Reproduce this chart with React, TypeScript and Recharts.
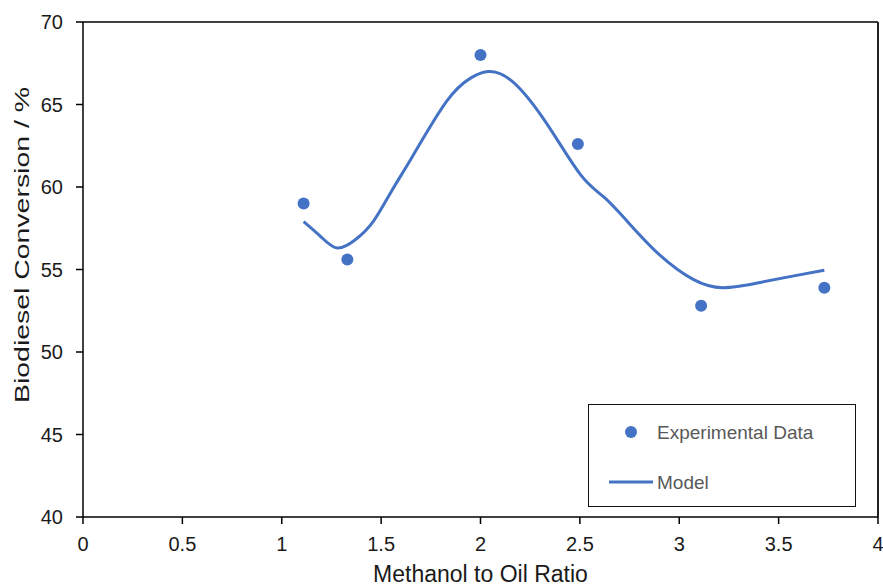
import {
  ComposedChart,
  Line,
  Scatter,
  XAxis,
  YAxis,
  ReferenceLine,
} from "recharts";

// experimental points
const expRatio = [1.11, 1.33, 2.0, 2.49, 3.11, 3.73];
const expConversion = [59.0, 55.6, 68.0, 62.6, 52.8, 53.9];

// model curve
const modelRatio = [
  1.11, 1.2, 1.28, 1.37, 1.46, 1.55, 1.66, 1.83, 1.95, 2.04, 2.16, 2.33, 2.5,
  2.62, 2.74, 2.9, 3.07, 3.22, 3.4, 3.57, 3.73,
];
const modelConversion = [
  57.9, 56.95, 56.3, 56.8, 57.9, 59.7, 61.9, 65.2, 66.6, 67.0, 66.4, 63.9,
  60.8, 59.4, 57.9, 55.9, 54.4, 53.9, 54.2, 54.6, 54.95,
];

const xTicks = [0, 0.5, 1, 1.5, 2, 2.5, 3, 3.5, 4];
const yTicks = [40, 45, 50, 55, 60, 65, 70];

const expData = expRatio.map((x, i) => ({ x, y: expConversion[i] }));
const modelData = modelRatio.map((x, i) => ({ x, y: modelConversion[i] }));

const BLUE = "#4472C4";
const FONT = "'Liberation Sans', Arial, sans-serif";

function LegendBox() {
  return (
    <div
      style={{
        position: "absolute",
        left: 588,
        top: 404,
        width: 268,
        height: 103,
        border: "1.5px solid #111",
        boxSizing: "border-box",
        background: "#fff",
      }}
    >
      <svg width={266} height={100} style={{ position: "absolute", left: 0, top: 0 }}>
        <circle cx={42} cy={27} r={6} fill={BLUE} />
        <line x1={20} x2={64} y1={77} y2={77} stroke={BLUE} strokeWidth={3} />
        <text x={68} y={27} dominantBaseline="central" fill="#595959" fontSize={19} fontFamily={FONT}>
          Experimental Data
        </text>
        <text x={68} y={77} dominantBaseline="central" fill="#595959" fontSize={19} fontFamily={FONT}>
          Model
        </text>
      </svg>
    </div>
  );
}

export default function App() {
  return (
    <div style={{ position: "absolute", left: 0, top: 0, width: 883, height: 588, background: "#fff" }}>
      <ComposedChart
        width={883}
        height={588}
        margin={{ top: 22, right: 5, bottom: 0, left: 0 }}
      >
        <XAxis
          type="number"
          dataKey="x"
          domain={[0, 4]}
          ticks={xTicks}
          interval={0}
          height={71}
          tickSize={7}
          tickMargin={13}
          stroke="#000"
          strokeWidth={1.5}
          tick={{ fill: "#1a1a1a", fontSize: 20, fontFamily: FONT }}
          label={({ viewBox }: any) => (
            <text
              x={viewBox.x + viewBox.width / 2}
              y={582}
              textAnchor="middle"
              fill="#1a1a1a"
              fontSize={23}
              fontFamily={FONT}
            >
              Methanol to Oil Ratio
            </text>
          )}
        />
        <YAxis
          type="number"
          dataKey="y"
          domain={[40, 70]}
          ticks={yTicks}
          interval={0}
          width={83}
          tickSize={7}
          tickMargin={13}
          stroke="#000"
          strokeWidth={1.5}
          tick={{ fill: "#1a1a1a", fontSize: 20, fontFamily: FONT }}
          label={() => (
            <text
              x={21}
              y={245}
              transform="rotate(-90, 21, 245)"
              textAnchor="middle"
              dominantBaseline="central"
              fill="#1a1a1a"
              fontSize={21}
              fontFamily={FONT}
              textLength={316}
              lengthAdjust="spacingAndGlyphs"
            >
              Biodiesel Conversion / %
            </text>
          )}
        />
        <ReferenceLine y={70} stroke="#000" strokeWidth={1.5} />
        <ReferenceLine x={4} stroke="#222" strokeWidth={2} />
        <Line
          data={modelData}
          dataKey="y"
          type="natural"
          stroke={BLUE}
          strokeWidth={3}
          dot={false}
          activeDot={false}
          isAnimationActive={false}
          legendType="none"
        />
        <Scatter
          data={expData}
          dataKey="y"
          fill={BLUE}
          shape={(p: any) => <circle cx={p.cx} cy={p.cy} r={6} fill={BLUE} />}
          isAnimationActive={false}
        />
      </ComposedChart>
      <LegendBox />
    </div>
  );
}
